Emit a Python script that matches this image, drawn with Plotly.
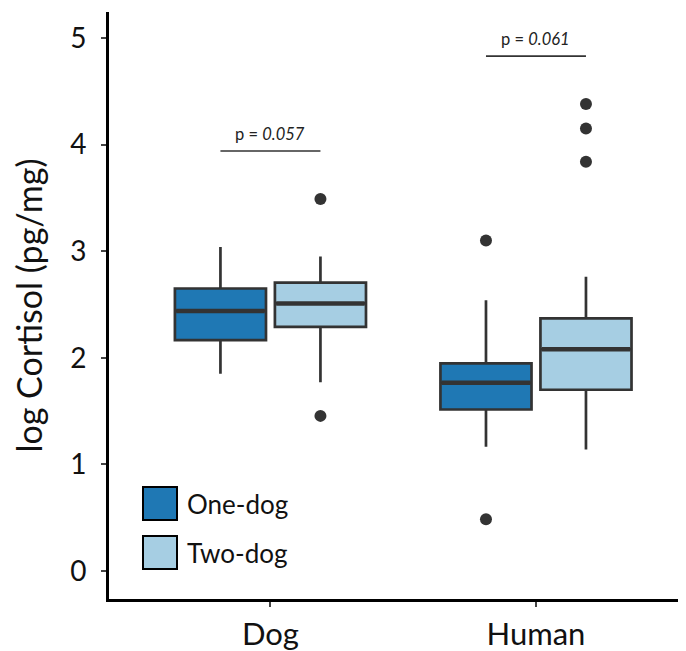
import plotly.graph_objects as go

# ---- data ----
groups = ["Dog", "Human"]
series_names = ["One-dog", "Two-dog"]

one_lo = [1.85, 1.165]
one_q1 = [2.165, 1.515]
one_med = [2.44, 1.765]
one_q3 = [2.65, 1.947]
one_hi = [3.04, 2.54]
one_out = [[], [3.10, 0.485]]

two_lo = [1.77, 1.14]
two_q1 = [2.29, 1.70]
two_med = [2.51, 2.08]
two_q3 = [2.705, 2.37]
two_hi = [2.95, 2.76]
two_out = [[3.49, 1.455], [4.38, 4.15, 3.84]]

p_values = ["0.057", "0.061"]
p_heights = [3.94, 4.83]

y_ticks = [0, 1, 2, 3, 4, 5]

# ---- style ----
FONT = "Lato"
EDGE = "#333333"
COLORS = ["#1f78b4", "#a6cee3"]
OFF = 0.1883
BW = 0.343

PAGE_PAD = 8  # default body margin of the html page
W, H = 686 - PAGE_PAD, 651 - PAGE_PAD
ML, MR, MT, MB = 109 - PAGE_PAD, 0, 12 - PAGE_PAD, 52

fig = go.Figure()

series = [
    (one_lo, one_q1, one_med, one_q3, one_hi, one_out),
    (two_lo, two_q1, two_med, two_q3, two_hi, two_out),
]
for s, (lo, q1, med, q3, hi, outs) in enumerate(series):
    sign = -1 if s == 0 else 1
    for g in range(len(groups)):
        xc = g + sign * OFF
        fig.add_trace(go.Box(
            x=[xc], lowerfence=[lo[g]], q1=[q1[g]], median=[med[g]],
            q3=[q3[g]], upperfence=[hi[g]], width=BW, whiskerwidth=0,
            fillcolor=COLORS[s], line=dict(color=EDGE, width=2.7),
            boxpoints=False, showlegend=False, hoverinfo="skip",
        ))
        # thicker median
        fig.add_trace(go.Scatter(
            x=[xc - BW / 2 + 0.005, xc + BW / 2 - 0.005], y=[med[g], med[g]],
            mode="lines", line=dict(color=EDGE, width=4.5),
            showlegend=False, hoverinfo="skip",
        ))
        if outs[g]:
            fig.add_trace(go.Scatter(
                x=[xc] * len(outs[g]), y=outs[g], mode="markers",
                marker=dict(color=EDGE, size=12),
                showlegend=False, hoverinfo="skip",
            ))

# p-value brackets
for g in range(len(groups)):
    fig.add_shape(type="line", x0=g - OFF, x1=g + OFF, y0=p_heights[g], y1=p_heights[g],
                  line=dict(color=EDGE, width=1.6))
    fig.add_annotation(x=g, y=p_heights[g], text=f"p = <i>{p_values[g]}</i>",
                       showarrow=False, yshift=17, yanchor="middle",
                       font=dict(family=FONT, size=16.5, color="#222"))

# manual legend (page pixel -> paper)
pw, ph = W - ML - MR, H - MT - MB
def px(x):
    return (x - PAGE_PAD - ML) / pw
def py(y):
    return (H - MB - (y - PAGE_PAD)) / ph

legend_rows = [(487, 520), (536, 569)]
for i, (top, bot) in enumerate(legend_rows):
    fig.add_shape(type="rect", xref="paper", yref="paper",
                  x0=px(143), x1=px(177), y0=py(bot), y1=py(top),
                  fillcolor=COLORS[i], line=dict(color="black", width=2))
    fig.add_annotation(xref="paper", yref="paper", x=px(185), y=py((top + bot) / 2),
                       text=series_names[i], showarrow=False, xanchor="left", yanchor="middle",
                       font=dict(family=FONT, size=26, color="#111"))

fig.update_layout(
    width=W, height=H,
    margin=dict(l=ML, r=MR, t=MT, b=MB, pad=0, autoexpand=False),
    plot_bgcolor="white", paper_bgcolor="white",
    font=dict(family=FONT, color="#111"),
    showlegend=False,
)
fig.update_xaxes(
    range=[-0.608, 1.565], tickmode="array", tickvals=list(range(len(groups))), ticktext=groups,
    showline=True, linecolor="black", linewidth=3, showgrid=False, zeroline=False,
    ticks="outside", ticklen=5, tickwidth=2, tickcolor="#444", automargin=False,
    tickfont=dict(family=FONT, size=31, color="#111"), ticklabelstandoff=1,
)
fig.update_yaxes(
    range=[-0.263, 5.244], tickmode="array", tickvals=y_ticks,
    showline=True, linecolor="black", linewidth=3, showgrid=False, zeroline=False,
    ticks="outside", ticklen=5, tickwidth=2, tickcolor="#444", automargin=False,
    tickfont=dict(family=FONT, size=28, color="#111"), ticklabelstandoff=9,
    title=dict(text="log Cortisol (pg/mg)", font=dict(family=FONT, size=34, color="#111"), standoff=22),
)

fig.write_html("out.html")
